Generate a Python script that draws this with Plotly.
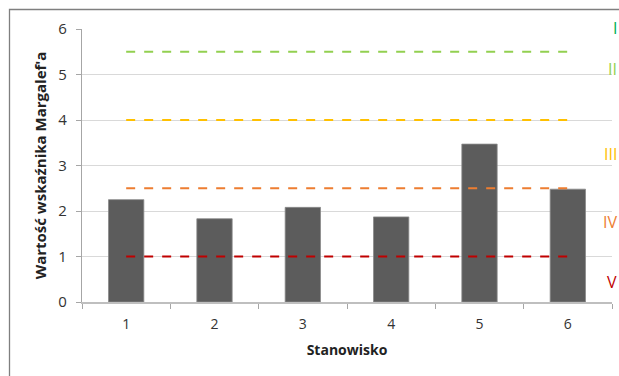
import plotly.graph_objects as go

# Stanowiska i wartości wskaźnika Margalefa
stanowiska = ["1", "2", "3", "4", "5", "6"]
margalef = [2.25, 1.83, 2.08, 1.87, 3.47, 2.48]

# Granice klas jakości (linie przerywane)
granice = [1.0, 2.5, 4.0, 5.5]
kolory_granic = ["#C00000", "#ED7D31", "#FFC000", "#92D050"]

# Etykiety klas
klasy = ["I", "II", "III", "IV", "V"]
klasy_y = [6.03, 5.12, 3.26, 1.76, 0.45]
klasy_kolory = ["#00B050", "#92D050", "#FFC000", "#ED7D31", "#C00000"]

W, H = 619, 376
L, R, T, B = 82, 7, 29, 74
plot_w = W - L - R
Y_MAX = 6

fig = go.Figure()

fig.add_trace(go.Bar(
    x=stanowiska, y=margalef,
    width=0.4,
    marker=dict(color="#5c5c5c", line=dict(color="#8a8a8a", width=0.8)),
    showlegend=False,
))

for g, c in zip(granice, kolory_granic):
    fig.add_trace(go.Scatter(
        x=stanowiska, y=[g] * len(stanowiska),
        mode="lines",
        line=dict(color=c, width=2, dash="dash"),
        showlegend=False,
        hoverinfo="skip",
    ))

for k, ky, kc in zip(klasy, klasy_y, klasy_kolory):
    fig.add_annotation(
        text=k, x=(W - 1 - L) / plot_w, xref="paper", xanchor="right",
        y=ky / Y_MAX, yref="paper", yanchor="middle",
        showarrow=False, borderpad=0,
        font=dict(family="Open Sans", size=16, color=kc),
    )

# Ramka wykresu
fig.add_shape(
    type="rect", xref="paper", yref="paper",
    x0=(9.5 - L) / plot_w, x1=1.2,
    y0=-0.5, y1=1 + (T - 9.5) / (H - T - B),
    line=dict(color="#7f7f7f", width=1.3),
    layer="below",
)

fig.update_layout(
    width=W, height=H,
    margin=dict(l=L, r=R, t=T, b=B),
    paper_bgcolor="white", plot_bgcolor="white",
    font=dict(family="Open Sans", color="#333333"),
    bargap=0.6,
    xaxis=dict(
        type="category",
        tickson="boundaries",
        ticks="outside", ticklen=5, tickcolor="#a6a6a6",
        showline=True, linecolor="#bfbfbf", linewidth=1.5,
        tickfont=dict(size=14, color="#333333"),
        ticklabelstandoff=8,
        title=dict(text="<b>Stanowisko</b>", font=dict(size=14, color="#222222"), standoff=14),
        showgrid=False,
    ),
    yaxis=dict(
        range=[0, Y_MAX], dtick=1,
        ticks="outside", ticklen=5, tickcolor="#a6a6a6",
        showline=True, linecolor="#a6a6a6", linewidth=1.2,
        gridcolor="#d9d9d9", gridwidth=1,
        zeroline=False,
        tickfont=dict(size=15, color="#333333"),
        ticklabelstandoff=6,
        title=dict(text="<b>Wartość wskaźnika Margalef'a</b>", font=dict(size=15, color="#222222"), standoff=8),
    ),
)

fig.write_html("out.html")
